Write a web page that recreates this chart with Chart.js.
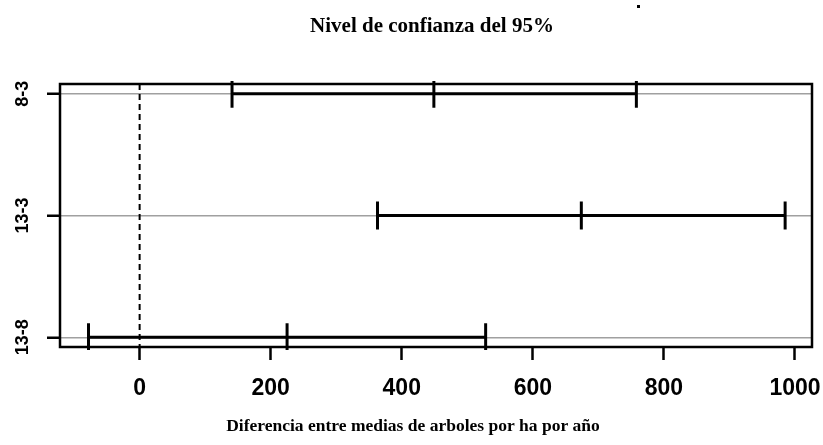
<!DOCTYPE html>
<html lang="es">
<head>
<meta charset="utf-8">
<script src="https://cdn.jsdelivr.net/npm/chart.js@4.4.1/dist/chart.umd.min.js"></script>
<style>
  html, body { margin:0; padding:0; background:#fff; overflow:hidden; }
  #caja { width:823px; height:445px; position:relative; }
</style>
</head>
<body>
<div id="caja"><canvas id="grafico"></canvas></div>
<script>
/* ===== datos : Tukey HSD, diferencias entre medias (árboles/ha/año) ===== */
const comparaciones = ['8-3', '13-3', '13-8'];
const diferencias   = [449, 674, 225];
const limInf        = [141, 363, -78];
const limSup        = [758, 985, 528];
const ticksX        = [0, 200, 400, 600, 800, 1000];

const titulo  = 'Nivel de confianza del 95%';
const tituloX = 'Diferencia entre medias de arboles por ha por año';

/* intervalos : un dataset por comparación, marcas "|" en inf / media / sup */
const intervalos = comparaciones.map((c, i) => ({
  label: c,
  data: [limInf[i], diferencias[i], limSup[i]].map(x => ({ x, y: i })),
  borderColor: '#000', backgroundColor: '#000', borderWidth: 3,
  pointStyle: 'line', pointRotation: 90, pointRadius: 14, pointBorderWidth: 3,
  pointHoverRadius: 14, clip: 3,
}));

/* línea discontinua en 0 */
const ceroY = [-0.08, 2.08];
const lineaCero = {
  label: 'cero',
  data: ceroY.map(y => ({ x: 0, y })),
  borderColor: '#000', borderWidth: 2, borderDash: [6, 4], pointRadius: 0,
};

const fuenteEje = { family: '"Liberation Sans", Arial, sans-serif', weight: 'bold' };

/* textos + marco ; etiquetas del eje x dibujadas aquí (si no, "1000" encoge el área) */
const textos = {
  id: 'textos',
  afterDatasetsDraw(chart){
    const { ctx, chartArea: a, scales: { x } } = chart;
    ctx.save();
    ctx.strokeStyle = '#000'; ctx.lineWidth = 2.5;
    ctx.strokeRect(a.left, a.top, a.right - a.left, a.bottom - a.top);
    ctx.fillStyle = '#000';
    ctx.textAlign = 'center'; ctx.textBaseline = 'middle';
    ctx.font = `bold 23px ${fuenteEje.family}`;
    ticksX.forEach(v => ctx.fillText(String(v), x.getPixelForValue(v), a.bottom + 42));
    ctx.textBaseline = 'alphabetic';
    ctx.font = 'bold 21px "Liberation Serif", "Times New Roman", serif';
    ctx.fillText(titulo, 432, 32);
    ctx.font = 'bold 17.5px "Liberation Serif", "Times New Roman", serif';
    ctx.fillText(tituloX, 413, 431);
    ctx.fillRect(637, 5, 3, 3);
    ctx.restore();
  }
};

new Chart(document.getElementById('grafico'), {
  type: 'line',
  data: { datasets: [lineaCero, ...intervalos] },
  options: {
    responsive: true, maintainAspectRatio: false, animation: false,
    /* autoPadding off : las marcas "|" (radio 14) reservaban 17 px a la derecha */
    layout: { autoPadding: false, padding: { top: 84, right: 11, bottom: 38, left: 0 } },
    plugins: { legend: { display: false }, tooltip: { enabled: false }, title: { display: false } },
    scales: {
      x: {
        type: 'linear', min: -121.5, max: 1026,
        afterBuildTicks: s => { s.ticks = ticksX.map(value => ({ value })); },
        afterFit: s => { s.height = 60; },
        grid: { drawOnChartArea: false, tickLength: 13, tickColor: '#000', tickWidth: 2.5 },
        border: { display: false },
        ticks: { display: false },
      },
      y: {
        type: 'linear', reverse: true, min: -0.08, max: 2.08,
        afterBuildTicks: s => { s.ticks = comparaciones.map((c, i) => ({ value: i })); },
        afterFit: s => { s.width = 60; },
        grid: { color: '#a0a0a0', lineWidth: 1.5, tickLength: 13, tickColor: '#000', tickWidth: 2.5 },
        border: { display: false },
        ticks: {
          color: '#000', padding: 6, minRotation: 90, maxRotation: 90, crossAlign: 'center',
          font: { ...fuenteEje, size: 18 },
          callback: v => comparaciones[v] ?? '',
        },
      },
    },
  },
  plugins: [textos],
});
</script>
</body>
</html>
